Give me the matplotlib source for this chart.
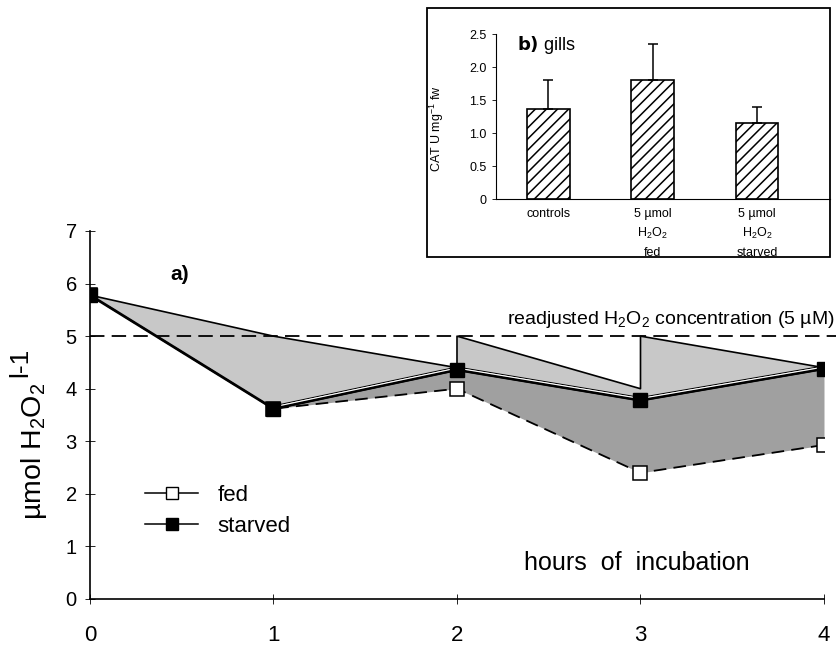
"""
H2O2 consumption (fed vs. starved) with CAT activity inset (gills)
"""

import matplotlib
matplotlib.use('Agg')
import matplotlib.pyplot as plt
import matplotlib.patheffects as pe
from matplotlib.patches import Rectangle
import numpy as np

# ── font settings ──
plt.rcParams['font.family'] = ['Liberation Sans', 'DejaVu Sans']
plt.rcParams['mathtext.default'] = 'regular'
plt.rcParams['hatch.linewidth'] = 1.1

# ── main panel data ──
HOURS = [0, 1, 2, 3, 4]
STARVED = [5.78, 3.62, 4.36, 3.78, 4.38]
FED = [5.78, 3.62, 4.00, 2.40, 2.93]
# concentration after each readjustment to 5 µM
READJUST_X = [0, 1, 2, 2, 3, 3, 4]
READJUST_Y = [5.78, 5.00, 4.40, 5.00, 4.00, 5.00, 4.40]
TARGET = 5.0

# ── inset data ──
GROUPS = ['controls', '5 µmol\nH$_2$O$_2$\nfed', '5 µmol\nH$_2$O$_2$\nstarved']
CAT = [1.37, 1.81, 1.16]
CAT_ERR = [0.44, 0.54, 0.24]

fig = plt.figure(figsize=(8.37, 6.48), dpi=100)
ax = fig.add_axes([90 / 837, 49 / 648, 734 / 837, 368 / 648])

# shaded areas
lower = np.interp(READJUST_X, HOURS, STARVED)
ax.fill_between(READJUST_X, READJUST_Y, lower, color='#c8c8c8', lw=0, zorder=1)
ax.fill_between(HOURS[1:], STARVED[1:], FED[1:], color='#a0a0a0', lw=0, zorder=1)
ax.plot(READJUST_X, READJUST_Y, color='k', lw=1.2, zorder=2)

# readjusted level
ax.axhline(TARGET, xmax=1.016, color='k', lw=1.3, ls=(0, (8, 4)), clip_on=False, zorder=2)

# fed (dashed) and starved (solid)
ax.plot(HOURS, FED, color='k', lw=1.3, ls=(0, (7, 4)), marker='s', ms=9.5,
        mfc='white', mec='k', mew=1.1, zorder=3)
ax.plot(HOURS, STARVED, color='k', lw=2.0, zorder=3)
ax.plot(HOURS[1:], STARVED[1:], color='k', lw=1.6, zorder=3,
        path_effects=[pe.Stroke(linewidth=0.8, foreground='k', offset=(0, 2.0)),
                      pe.Stroke(linewidth=1.3, foreground='w', offset=(0, 1.0)),
                      pe.Normal()])
ax.plot(HOURS, STARVED, ls='none', marker='s', ms=9.5, mfc='k', mec='k', zorder=5)

ax.set_xlim(0, 4)
ax.set_ylim(0, 7)
ax.set_xticks(HOURS)
ax.set_yticks(range(8))
ax.tick_params(axis='x', direction='inout', length=7, width=0.6, pad=15, labelsize=16)
ax.tick_params(axis='y', direction='inout', length=7, width=0.6, pad=6, labelsize=14.5)
for s in ['top', 'right']:
    ax.spines[s].set_visible(False)
for s in ['left', 'bottom']:
    ax.spines[s].set_linewidth(1.2)

# texts
ax.text(0.49, 6.18, 'a)', fontsize=15, fontweight='bold', ha='center', va='center')
ax.text(4.06, 5.12, 'readjusted H$_2$O$_2$ concentration (5 µM)', fontsize=14,
        ha='right', va='bottom', clip_on=False)
ax.text(2.98, 0.68, 'hours  of  incubation', fontsize=18, ha='center', va='center')
# y label: "l-1" sits raised beside the H2O2 part
fig.text(34 / 837, (648 - 520) / 648, 'µmol H$_2$O$_2$', fontsize=20.5, rotation=90,
         ha='center', va='bottom')
fig.text(20 / 837, (648 - 377) / 648, 'l-1', fontsize=19, rotation=90,
         ha='center', va='bottom')

# legend (solid line handles like the original)
h_fed, = ax.plot([], [], color='k', lw=1.1, marker='s', ms=8.5, mfc='white', mec='k')
h_st, = ax.plot([], [], color='k', lw=1.1, marker='s', ms=8.5, mfc='k', mec='k')
ax.legend([h_fed, h_st], ['fed', 'starved'], loc='upper left',
          bbox_to_anchor=(0.075, 0.31), frameon=False, fontsize=16,
          handlelength=2.4, handletextpad=0.85, labelspacing=0.45,
          borderpad=0, borderaxespad=0)

# ── inset b) gills ──
fig.add_artist(Rectangle((427 / 837, 391 / 648), 403 / 837, 249 / 648,
                         transform=fig.transFigure, fill=False, lw=1.3, ec='k'))
axin = fig.add_axes([496 / 837, 448.7 / 648, 334 / 837, 165 / 648])
pos = np.arange(len(GROUPS))
axin.bar(pos, CAT, width=0.41, color='white', edgecolor='k', hatch='///', lw=1.2,
         yerr=[np.zeros(len(CAT)), CAT_ERR], capsize=3.5,
         error_kw=dict(elinewidth=1.1, capthick=1.1))
axin.set_xlim(-0.5, 2.7)
axin.set_ylim(0, 2.5)
axin.set_yticks([0, 0.5, 1.0, 1.5, 2.0, 2.5])
axin.set_yticklabels(['0', '0.5', '1.0', '1.5', '2.0', '2.5'])
axin.set_xticks(pos)
axin.set_xticklabels(GROUPS, linespacing=1.6)
axin.tick_params(axis='x', length=0, pad=6, labelsize=9)
axin.tick_params(axis='y', length=3, width=0.6, pad=4, labelsize=9)
axin.set_ylabel('CAT U mg$^{-1}$ fw', fontsize=9, labelpad=6)
axin.yaxis.set_label_coords(-0.15, 0.43)
for s in ['top', 'right']:
    axin.spines[s].set_visible(False)
axin.text(-0.3, 2.34, r'$\bf{b)}$ gills', fontsize=13, ha='left', va='center')

fig.savefig('out.png', dpi=100)
